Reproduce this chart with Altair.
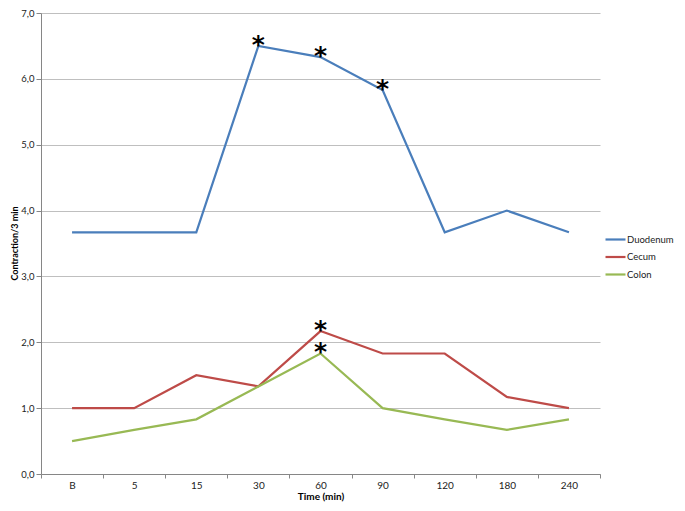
import altair as alt
import pandas as pd

times = ["B", "5", "15", "30", "60", "90", "120", "180", "240"]
series = ["Duodenum", "Cecum", "Colon"]
duodenum = [3.67, 3.67, 3.67, 6.5, 6.33, 5.83, 3.67, 4.0, 3.67]
cecum = [1.0, 1.0, 1.5, 1.33, 2.17, 1.83, 1.83, 1.17, 1.0]
colon = [0.5, 0.67, 0.83, 1.33, 1.83, 1.0, 0.83, 0.67, 0.83]
colors = ["#4A7EBB", "#BE4B48", "#98B954"]

star_times = ["30", "60", "90", "60", "60"]
star_values = [6.5, 6.33, 5.83, 2.17, 1.83]

rows = []
for name, vals in zip(series, [duodenum, cecum, colon]):
    for t, v in zip(times, vals):
        rows.append({"time": t, "value": v, "series": name})
df = pd.DataFrame(rows)
stars = pd.DataFrame({"time": star_times, "value": star_values})

FONT = "Lato"

x_enc = alt.X(
    "time:O",
    sort=times,
    scale=alt.Scale(type="band", domain=times, paddingInner=0, paddingOuter=0),
    axis=alt.Axis(
        title="Time (min)",
        labelAngle=0,
        tickBand="extent",
        tickSize=4,
        tickColor="#868686",
        domainColor="#868686",
        labelPadding=2,
        labelFontSize=10,
        labelColor="#222222",
        titleFontSize=10,
        titleFontWeight="bold",
        titlePadding=1,
        grid=False,
    ),
)
y_enc = alt.Y(
    "value:Q",
    scale=alt.Scale(domain=[0, 7], nice=False),
    axis=alt.Axis(
        title="Contraction/3 min",
        values=[0, 1, 2, 3, 4, 5, 6, 7],
        labelExpr="replace(format(datum.value, '.1f'), '.', ',')",
        tickSize=5,
        tickColor="#868686",
        domainColor="#868686",
        gridColor="#BFBFBF",
        labelPadding=2,
        labelFontSize=9.5,
        labelColor="#222222",
        titleFontSize=9,
        titleFontWeight="bold",
        titleX=-27,
        titleY=230,
        titleAlign="center",
        titleBaseline="middle",
    ),
)

lines = alt.Chart(df).mark_line(strokeWidth=2.2).encode(
    x=x_enc,
    y=y_enc,
    color=alt.Color(
        "series:N",
        scale=alt.Scale(domain=series, range=colors),
        legend=alt.Legend(
            title=None,
            orient="none",
            legendX=563,
            legendY=215,
            symbolType="stroke",
            symbolSize=400,
            symbolStrokeWidth=2.2,
            labelFontSize=9.5,
            labelColor="#222222",
            labelOffset=0,
            rowPadding=1.5,
        ),
    ),
    detail="series:N",
)

star_layer = alt.Chart(stars).mark_text(
    text="*", fontSize=25, font="DejaVu Sans", fontWeight="bold",
    baseline="alphabetic", dy=7, dx=0, color="black"
).encode(x=alt.X("time:O", sort=times), y="value:Q")

chart = (
    alt.layer(lines, star_layer)
    .properties(
        width=559,
        height=461,
        autosize=alt.AutoSizeParams(type="none"),
        padding={"left": 33, "top": 5, "right": 77, "bottom": 29},
    )
    .configure(font=FONT)
    .configure_view(stroke=None)
)

chart.save("out.html", embed_options={"renderer": "svg", "actions": False})
